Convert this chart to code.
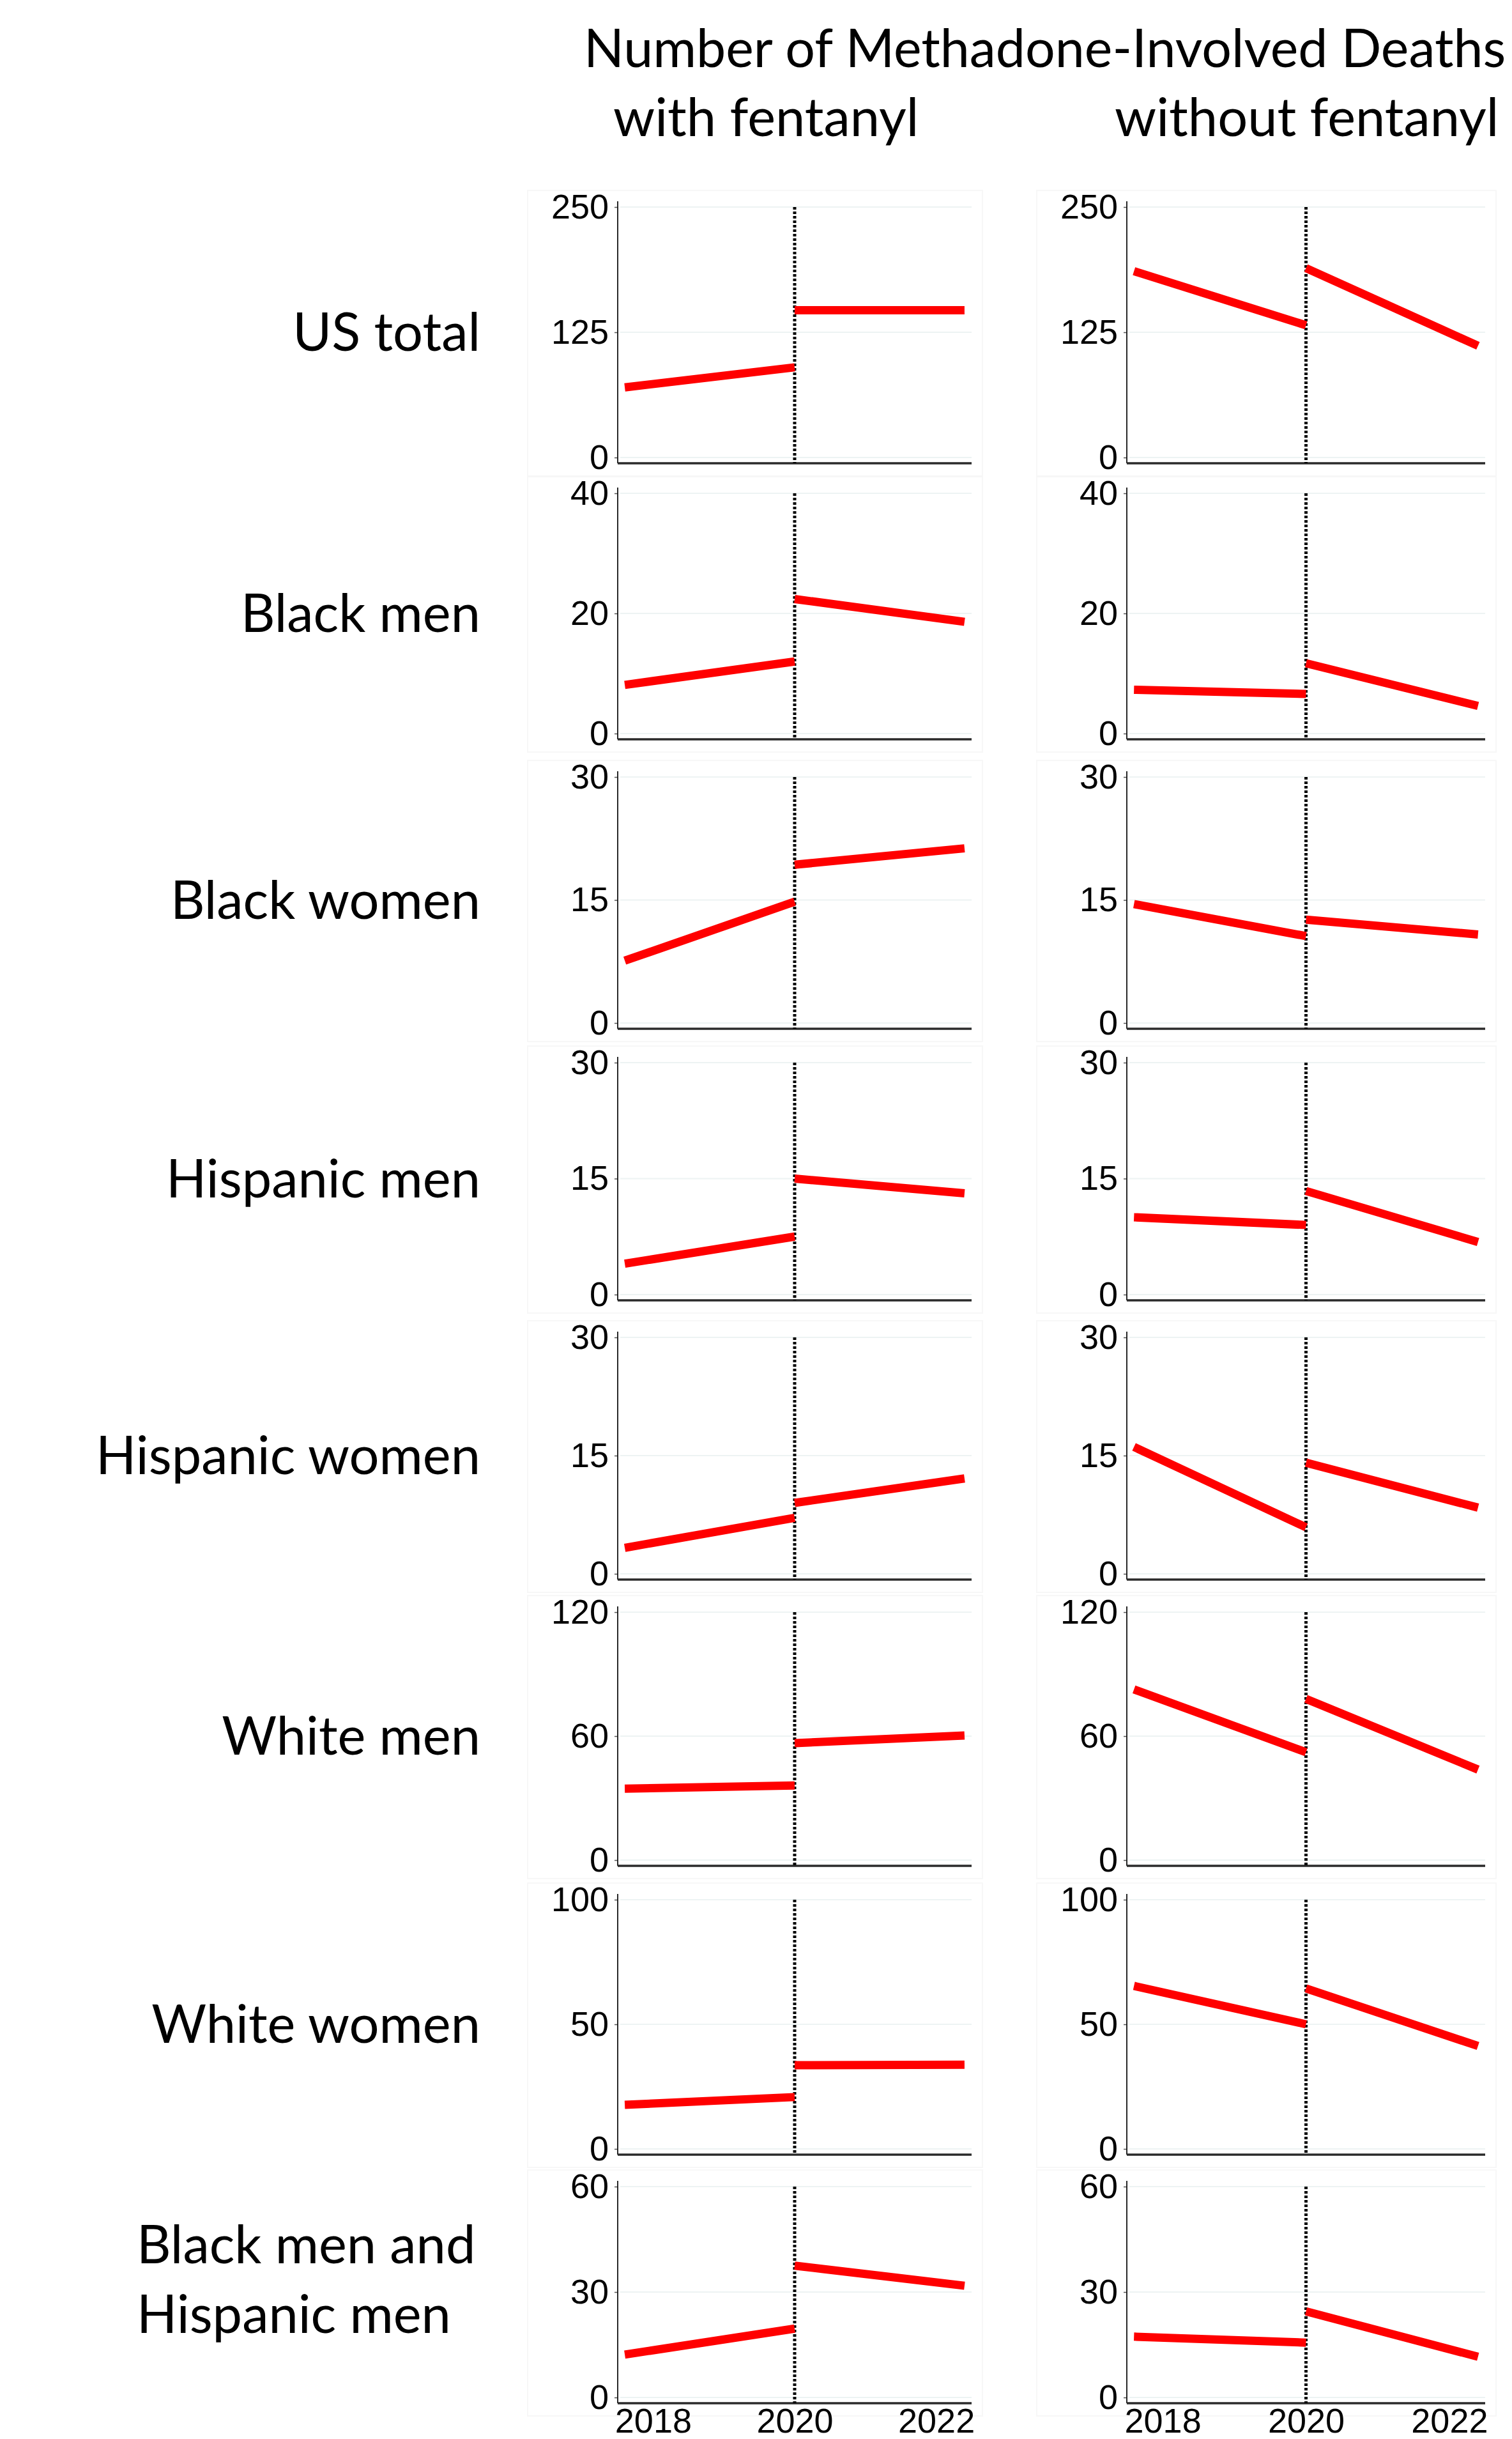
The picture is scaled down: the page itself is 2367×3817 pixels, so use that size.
<!DOCTYPE html>
<html>
<head>
<meta charset="utf-8">
<script src="https://cdn.jsdelivr.net/npm/d3@7"></script>
<style>
  body { margin: 0; background: #fff; }
  svg { display: block; }
</style>
</head>
<body>
<div id="chart"></div>
<script>
const width = 2367;
const height = 3817;

// Data ///////////////////////////////////////////////////
const groups = [
  "US total",
  "Black men",
  "Black women",
  "Hispanic men",
  "Hispanic women",
  "White men",
  "White women",
  "Black men and|Hispanic men"
];
const columnTitles = ["with fentanyl", "without fentanyl"];
const yTicks = [
  [0, 125, 250],
  [0, 20, 40],
  [0, 15, 30],
  [0, 15, 30],
  [0, 15, 30],
  [0, 60, 120],
  [0, 50, 100],
  [0, 30, 60]
];
const xTicks = [2018, 2020, 2022];
const preYears = [2017.6, 2020];
const postYears = [2020, 2022.4];
// [pre start, pre end, post start, post end]
const withFentanyl = [
  [70, 90, 147, 147],
  [8.1, 12.0, 22.4, 18.6],
  [7.6, 14.8, 19.3, 21.3],
  [4.0, 7.5, 15.0, 13.1],
  [3.3, 7.1, 9.0, 12.1],
  [34.6, 36.1, 56.6, 60.3],
  [17.7, 20.8, 33.6, 33.8],
  [12.2, 19.6, 37.5, 31.8]
];
const withoutFentanyl = [
  [186, 132, 189, 111.5],
  [7.3, 6.6, 11.7, 4.6],
  [14.5, 10.6, 12.6, 10.8],
  [10.0, 9.0, 13.4, 6.8],
  [16.1, 5.9, 14.1, 8.4],
  [82.6, 52.2, 78, 43.8],
  [65.4, 50, 64.4, 41.3],
  [17.3, 15.6, 24.5, 11.6]
];

// Layout //////////////////////////////////////////////////
const rowTop = [324, 772, 1216, 1663, 2093, 2523, 2973, 3422];
const rowZero = [716, 1148, 1601, 2026, 2463, 2911, 3363, 3752];
const colLeft = [967, 1764];
const colRight = [1521, 2325];
const axisGap = 9;
const labelFont = "Lato, 'Noto Sans', sans-serif";
const tickFont = "'Liberation Sans', Arial, sans-serif";

const svg = d3
  .select("#chart")
  .append("svg")
  .attr("width", width)
  .attr("height", height);

// Titles
svg
  .append("text")
  .attr("x", 914)
  .attr("y", 105)
  .attr("font-family", labelFont)
  .attr("font-size", 82.5)
  .text("Number of Methadone-Involved Deaths");

svg
  .selectAll(".colTitle")
  .data(columnTitles)
  .join("text")
  .attr("class", "colTitle")
  .attr("x", (d, i) => [960, 1745][i])
  .attr("y", 213)
  .attr("font-family", labelFont)
  .attr("font-size", 83)
  .text(d => d);

// Panels
const drawPanel = (r, c, values) => {
  const xScale = d3
    .scaleLinear()
    .domain([2017.5, 2022.5])
    .range([colLeft[c], colRight[c]]);
  const top = yTicks[r][yTicks[r].length - 1];
  const yScale = d3
    .scaleLinear()
    .domain([0, top])
    .range([rowZero[r], rowTop[r]]);
  const axisY = yScale(0) + axisGap;
  const g = svg.append("g");

  // faint frame
  g.append("rect")
    .attr("x", colLeft[c] - 141)
    .attr("y", yScale(top) - 26)
    .attr("width", colRight[c] - colLeft[c] + 158)
    .attr("height", axisY - yScale(top) + 46)
    .attr("fill", "none")
    .attr("stroke", "#f7f7f7")
    .attr("stroke-width", 2);

  // gridlines
  g.selectAll(".grid")
    .data(yTicks[r])
    .join("line")
    .attr("x1", colLeft[c] + 4)
    .attr("x2", colRight[c])
    .attr("y1", d => yScale(d))
    .attr("y2", d => yScale(d))
    .attr("stroke", "#edf3f3")
    .attr("stroke-width", 2);

  // y axis
  const yAxis = d3
    .axisLeft(yScale)
    .tickValues(yTicks[r])
    .tickSize(5)
    .tickPadding(9)
    .tickFormat(d3.format("d"));
  const ya = g
    .append("g")
    .attr("transform", `translate(${colLeft[c]},0)`)
    .call(yAxis);
  ya.select(".domain").remove();
  ya.selectAll("line").attr("stroke", "#555").attr("stroke-width", 1.5);
  ya.selectAll("text")
    .attr("font-family", tickFont)
    .attr("font-size", 54)
    .attr("fill", "#000");

  g.append("line")
    .attr("x1", colLeft[c])
    .attr("x2", colLeft[c])
    .attr("y1", yScale(top) - axisGap)
    .attr("y2", axisY)
    .attr("stroke", "#111")
    .attr("stroke-width", 1.8);

  // x axis
  g.append("line")
    .attr("x1", colLeft[c])
    .attr("x2", colRight[c])
    .attr("y1", axisY)
    .attr("y2", axisY)
    .attr("stroke", "#2a2a2a")
    .attr("stroke-width", 3.5);

  if (r === groups.length - 1) {
    const xAxis = d3
      .axisBottom(xScale)
      .tickValues(xTicks)
      .tickSize(0)
      .tickPadding(8)
      .tickFormat(d3.format("d"));
    const xa = g
      .append("g")
      .attr("transform", `translate(0,${axisY})`)
      .call(xAxis);
    xa.select(".domain").remove();
    xa.selectAll("text")
      .attr("font-family", tickFont)
      .attr("font-size", 54)
      .attr("fill", "#000");
  }

  // break line at 2020
  g.append("line")
    .attr("x1", xScale(2020))
    .attr("x2", xScale(2020))
    .attr("y1", yScale(top))
    .attr("y2", axisY)
    .attr("stroke", "#000")
    .attr("stroke-width", 5)
    .attr("stroke-dasharray", "4,3");

  // fitted segments
  const line = d3
    .line()
    .x(d => xScale(d[0]))
    .y(d => yScale(d[1]));
  const segments = [
    [[preYears[0], values[0]], [preYears[1], values[1]]],
    [[postYears[0], values[2]], [postYears[1], values[3]]]
  ];
  g.selectAll(".seg")
    .data(segments)
    .join("path")
    .attr("d", line)
    .attr("fill", "none")
    .attr("stroke", "#ff0000")
    .attr("stroke-width", 13);
};

groups.forEach((name, r) => {
  drawPanel(r, 0, withFentanyl[r]);
  drawPanel(r, 1, withoutFentanyl[r]);

  const mid = (rowTop[r] + rowZero[r]) / 2;
  const lines = name.split("|");
  const label = svg
    .append("text")
    .attr("font-family", labelFont)
    .attr("font-size", 83)
    .attr("fill", "#000");
  if (lines.length === 1) {
    label
      .attr("x", 752)
      .attr("y", mid)
      .attr("dy", "0.35em")
      .attr("text-anchor", "end")
      .text(name);
  } else {
    lines.forEach((t, i) => {
      label
        .append("tspan")
        .attr("x", 214)
        .attr("y", mid - 20 + (i - 0.5) * 109)
        .attr("dy", "0.35em")
        .text(t);
    });
  }
});
</script>
</body>
</html>
